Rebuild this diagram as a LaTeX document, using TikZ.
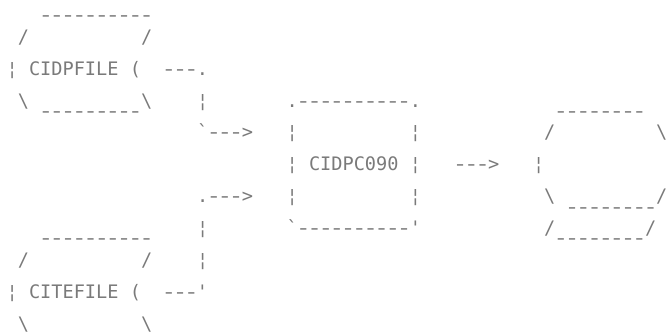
\documentclass[tikz,border=0pt]{standalone}
\usepackage{graphicx}
\usepackage{fontspec}
\newfontfamily\dotfont{DejaVu Sans Mono}[Ligatures=TeXOff]
\tikzset{
  ascii/.style={font=\dotfont\fontsize{18.6}{18.6}\selectfont, text=black!52, inner sep=0pt, anchor=base west},
}
% one hyphen cell, drawn a little longer like the printer's dash
\newcommand\h{\makebox[11.197pt]{\scalebox{1.3}[1]{-}}}
% \at{name}{column}{baseline y}{text}
\newcommand\at[4]{\node[ascii] (#1) at ({6.4+11.2*#2},{#3}) {#4};}
\begin{document}
\begin{tikzpicture}[x=1pt,y=-1pt]
\useasboundingbox (0,0) rectangle (670,335);
% ---- CIDPFILE ----
\at{fAtop}{3}{21.6}{\h\h\h\h\h\h\h\h\h\h}
\at{fAl1a}{1}{43.2}{/}
\at{fAl1b}{12}{43.2}{/}
\at{fAbar}{0}{75.1}{¦}
\at{fA}{2}{75.1}{CIDPFILE}
\at{fAend}{11}{75.1}{(}
\at{cA1}{14}{75.1}{\h\h\h.}
\at{fAl3a}{1}{107.0}{\textbackslash}
\at{fAl3b}{12}{107.0}{\textbackslash}
\at{fAbot}{3}{117.3}{\h\h\h\h\h\h\h\h\h}
\at{cA2}{17}{107.0}{¦}
\at{cA3}{17}{138.9}{`\h\h\h>}
% ---- CITEFILE ----
\at{fBtop}{3}{244.9}{\h\h\h\h\h\h\h\h\h\h}
\at{fBl1a}{1}{266.5}{/}
\at{fBl1b}{12}{266.5}{/}
\at{fBbar}{0}{298.4}{¦}
\at{fB}{2}{298.4}{CITEFILE}
\at{fBend}{11}{298.4}{(}
\at{cB1}{14}{298.4}{\h\h\h'}
\at{fBl3a}{1}{330.3}{\textbackslash}
\at{fBl3b}{12}{330.3}{\textbackslash}
\at{cB2}{17}{266.5}{¦}
\at{cB3}{17}{234.6}{¦}
\at{cB4}{17}{202.7}{.\h\h\h>}
% ---- CIDPC090 ----
\at{pTop}{25}{107.0}{.\h\h\h\h\h\h\h\h\h\h.}
\at{pL4a}{25}{138.9}{¦}
\at{pL4b}{36}{138.9}{¦}
\at{pL5a}{25}{170.8}{¦}
\at{p}{27}{170.8}{CIDPC090}
\at{pL5b}{36}{170.8}{¦}
\at{pL6a}{25}{202.7}{¦}
\at{pL6b}{36}{202.7}{¦}
\at{pBot}{25}{234.6}{`\h\h\h\h\h\h\h\h\h\h'}
\at{cC}{40}{170.8}{\h\h\h>}
% ---- output ----
\at{oTop}{49}{117.3}{\h\h\h\h\h\h\h\h}
\at{oL4a}{48}{138.9}{/}
\at{oL4b}{58}{138.9}{\textbackslash}
\at{oL5}{47}{170.8}{¦}
\at{oL6a}{48}{202.7}{\textbackslash}
\at{oMid}{50}{213.0}{\h\h\h\h\h\h\h\h}
\at{oL6b}{58}{202.7}{/}
\at{oL7a}{48}{234.6}{/}
\at{oL7b}{57}{234.6}{/}
\at{oBot}{49}{244.9}{\h\h\h\h\h\h\h\h}
\end{tikzpicture}
\end{document}
